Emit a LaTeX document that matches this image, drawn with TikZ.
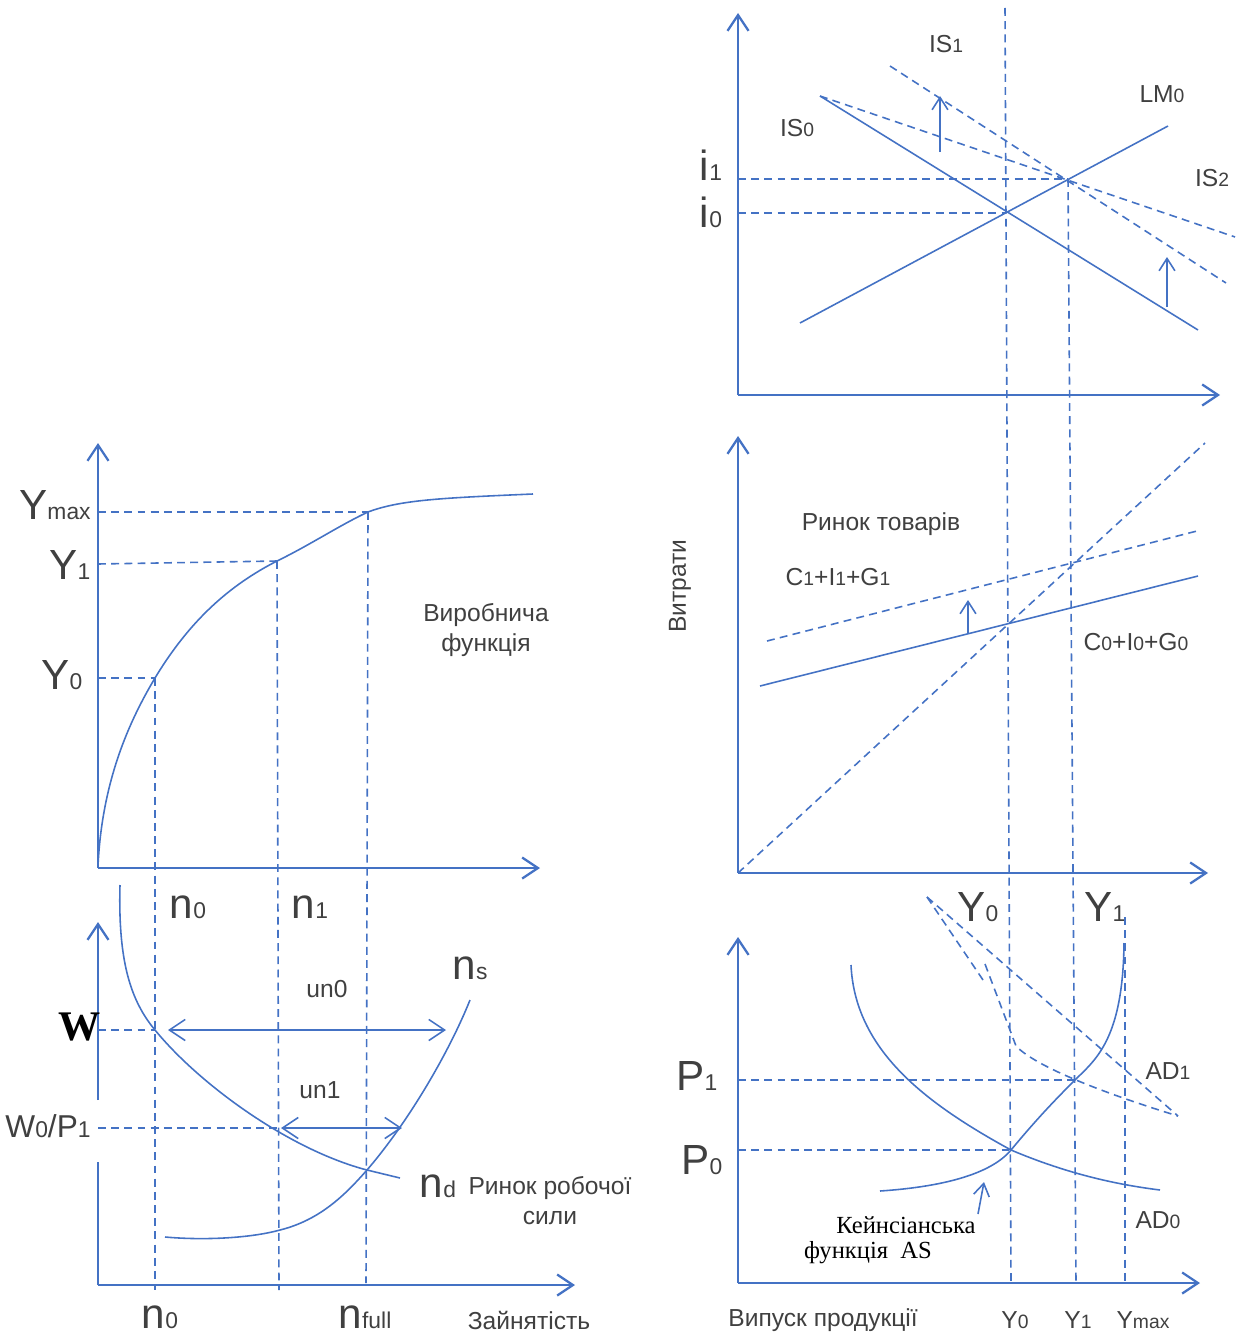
\documentclass[tikz,border=0pt]{standalone}
\usepackage{fontspec}
\setmainfont{Liberation Sans}
\newfontfamily\serifont{Liberation Serif}
\usetikzlibrary{arrows.meta}

\definecolor{lineblue}{HTML}{4472C4}
\definecolor{textgray}{HTML}{404040}

% subscripts sit on the baseline, only smaller
\newcommand{\bsub}[1]{{\fontsize{13}{13}\selectfont #1}}
\newcommand{\msub}[1]{{\fontsize{11}{11}\selectfont #1}}

\tikzset{
  axis/.style={draw=lineblue, line width=1.3pt, -{Straight Barb[length=9pt,width=12pt]}},
  curve/.style={draw=lineblue, line width=0.9pt},
  guide/.style={draw=lineblue, line width=0.9pt, dash pattern=on 4.5pt off 3pt},
  shiftarrow/.style={draw=lineblue, line width=0.9pt, -{Straight Barb[length=7pt,width=9pt]}},
  gap/.style={draw=lineblue, line width=0.9pt, {Straight Barb[length=9pt,width=12pt]}-{Straight Barb[length=9pt,width=12pt]}},
  lbl/.style={text=textgray, inner sep=0pt},
  big/.style={lbl, font=\fontsize{24}{24}\selectfont},
  mid/.style={lbl, font=\fontsize{14}{17}\selectfont, align=center},
  serlbl/.style={lbl, text=black, font=\serifont\fontsize{14}{14}\selectfont},
}

\begin{document}
\begin{tikzpicture}[x=0.02cm,y=-0.02cm]
\useasboundingbox (0,0) rectangle (1241,1335);

% ---- IS-LM
\coordinate (oIS) at (738,395);
\coordinate (e0) at (1005,213);
\coordinate (e1) at (1068,179);
\draw[axis] (oIS) -- (738,13);
\draw[axis] (oIS) -- (1220,395);
\draw[curve] (800,323) -- (1168,126);
\draw[curve] (820,96) -- (1198,330);
\draw[guide] (890,66) -- (1226,283);
\draw[guide] (820,96) -- (1235,237);
\draw[guide] (738,179) -- (e1);
\draw[guide] (738,213) -- (e0);
\draw[shiftarrow] (940,152) -- (940,96);
\draw[shiftarrow] (1167,307) -- (1167,257);
\node[mid] (is1) at (946,44) {IS\msub{1}};
\node[mid] (lm0) at (1162,94) {LM\msub{0}};
\node[mid] (is0) at (797,128) {IS\msub{0}};
\node[mid] (is2) at (1212,178) {IS\msub{2}};
\node[big] (i1) at (711,165) {i\bsub{1}};
\node[big] (i0) at (711,212) {i\bsub{0}};

% ---- goods market
\coordinate (oG) at (738,873);
\draw[axis] (oG) -- (738,436);
\draw[axis] (oG) -- (1208,873);
\draw[guide] (oG) -- (1205,443);
\draw[curve] (760,686) -- (1198,576);
\draw[guide] (767,641) -- (1197,531);
\draw[shiftarrow] (968,633) -- (968,600);
\node[mid] (goods) at (881,524) {Ринок товарів};
\node[mid] (ae1) at (838,577) {C\msub{1}+I\msub{1}+G\msub{1}};
\node[mid] (ae0) at (1136,642) {C\msub{0}+I\msub{0}+G\msub{0}};
\node[mid, rotate=90] (spend) at (680,586) {Витрати};
\node[big] (ty0) at (978,907) {Y\bsub{0}};
\node[big] (ty1) at (1105,907) {Y\bsub{1}};

% ---- AD-AS
\coordinate (oAD) at (738,1283);
\coordinate (p0) at (1011,1150);
\coordinate (p1) at (1075,1080);
\draw[axis] (oAD) -- (738,937);
\draw[axis] (oAD) -- (1200,1283);
\draw[guide] (1005,8) -- (1011,1283);
\draw[guide] (e1) -- (1076,1283);
\draw[guide] (1125,917) -- (1125,1283);
\draw[guide] (738,1080) -- (p1);
\draw[guide] (738,1150) -- (p0);
\draw[curve] (851,965) .. controls (855,1050) and (925,1103) .. (p0)
  .. controls (1070,1175) and (1120,1185) .. (1160,1190);
\draw[curve] (880,1191) .. controls (940,1187) and (990,1175) .. (p0)
  .. controls (1040,1115) and (1060,1095) .. (p1)
  .. controls (1095,1060) and (1123,1040) .. (1124,943);
\draw[guide] (927,897) -- (1178,1116);
\draw[guide] (927,897) -- (983,980);
\draw[guide] (985,964) -- (1016,1046) .. controls (1035,1066) and (1100,1092) .. (1178,1116);
\draw[shiftarrow] (978,1214) -- (984,1182);
\node[big] (pp1) at (697,1076) {P\bsub{1}};
\node[big] (pp0) at (702,1160) {P\bsub{0}};
\node[mid] (ad1) at (1168,1071) {AD\msub{1}};
\node[mid] (ad0) at (1158,1220) {AD\msub{0}};
\node[serlbl] (keyn) at (906,1225) {Кейнсіанська};
\node[serlbl] (asf) at (868,1253) {функція\ \ AS};
\node[mid] (outp) at (823,1320) {Випуск продукції};
\node[mid] (by0) at (1015,1320) {Y\msub{0}};
\node[mid] (by1) at (1078,1320) {Y\msub{1}};
\node[mid] (bymax) at (1143,1320) {Y\msub{max}};

% ---- production function
\coordinate (oP) at (98,868);
\coordinate (q0) at (155,678);
\coordinate (q1) at (277,561);
\coordinate (qmax) at (368,512);
\draw[axis] (oP) -- (98,443);
\draw[axis] (oP) -- (540,868);
\draw[curve] (98,866) .. controls (102,780) and (130,720) .. (q0)
  .. controls (190,620) and (230,585) .. (q1)
  .. controls (310,545) and (340,525) .. (qmax)
  .. controls (400,500) and (440,498) .. (533,494);
\draw[guide] (98,512) -- (qmax);
\draw[guide] (98,564) -- (q1);
\draw[guide] (98,678) -- (q0);
\draw[guide] (q0) -- (155,1290);
\draw[guide] (q1) -- (279,1290);
\draw[guide] (qmax) -- (366,1283);
\node[big] (ymax) at (55,505) {Y\bsub{max}};
\node[big] (ly1) at (70,565) {Y\bsub{1}};
\node[big] (ly0) at (62,675) {Y\bsub{0}};
\node[mid] (prod) at (486,630) {Виробнича\\функція};

% ---- labour market
\coordinate (oL) at (98,1285);
\coordinate (full) at (367,1170);
\draw[curve] (oL) -- (98,1162);
\draw[axis] (98,1100) -- (98,922);
\draw[axis] (oL) -- (575,1285);
\draw[curve] (120,885) .. controls (118,960) and (130,1000) .. (155,1030)
  .. controls (200,1085) and (290,1150) .. (full) -- (400,1178);
\draw[curve] (165,1237) .. controls (210,1241) and (255,1237) .. (280,1230)
  .. controls (320,1220) and (345,1195) .. (full)
  .. controls (410,1120) and (450,1050) .. (470,1000);
\draw[guide] (98,1030) -- (155,1030);
\draw[guide] (98,1128) -- (277,1128);
\draw[gap] (168,1030) -- (446,1030);
\draw[gap] (281,1128) -- (402,1128);
\node[big] (n0t) at (188,907) {n\bsub{0}};
\node[big] (n1t) at (310,907) {n\bsub{1}};
\node[big] (ns) at (470,968) {n\bsub{s}};
\node[mid] (un0) at (327,989) {un0};
\node[mid] (un1) at (320,1090) {un1};
\node[lbl, text=black, font=\serifont\bfseries\fontsize{24}{24}\selectfont] (w) at (80,1027) {W};
\node[lbl, font=\fontsize{18}{18}\selectfont] (wp) at (48,1126) {W\bsub{0}/P\bsub{1}};
\node[big] (nd) at (438,1186) {n\bsub{d}};
\node[mid] (labour) at (550,1201) {Ринок робочої\\сили};
\node[big] (n0b) at (160,1317) {n\bsub{0}};
\node[big] (nfull) at (365,1317) {n\bsub{full}};
\node[mid] (empl) at (529,1320) {Зайнятість};
\end{tikzpicture}
\end{document}
